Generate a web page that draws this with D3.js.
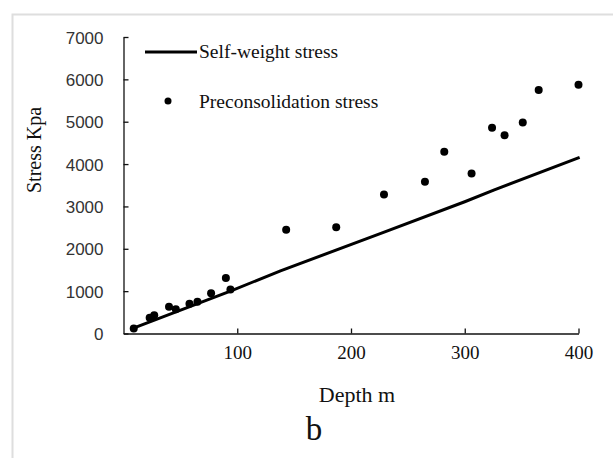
<!DOCTYPE html>
<html lang="en">
<head>
  <meta charset="UTF-8">
  <title>Stress vs depth</title>
  <script src="https://d3js.org/d3.v7.min.js"></script>
  <style>
    body { margin: 0; padding: 0; background: #fff; }
    svg { display: block; }
    .serif { font-family: "Liberation Serif", "Times New Roman", serif; fill: #111; }
    .yaxis text { font-family: "Liberation Sans", Arial, sans-serif; font-size: 17px; fill: #333; }
    .xaxis text { font-family: "Liberation Serif", "Times New Roman", serif; font-size: 19px; fill: #111; }
    .domain, .tick line { stroke: #111; stroke-width: 1.3; }
  </style>
</head>
<body>
<svg width="613" height="458"></svg>
<script>
  // data
  const pointDepth  = [9, 23, 27, 40, 46, 58, 65, 77, 90, 94, 143, 187, 229, 265, 282, 306, 324, 335, 351, 365, 400];
  const pointStress = [120, 370, 430, 630, 570, 700, 750, 950, 1310, 1040, 2450, 2510, 3280, 3580, 4290, 3780, 4860, 4680, 4980, 5750, 5870];
  const lineDepth   = [7, 94, 138, 228, 300, 326, 401];
  const lineStress  = [110, 1000, 1480, 2380, 3110, 3390, 4160];
  const xTicks = [100, 200, 300, 400];
  const yTicks = [0, 1000, 2000, 3000, 4000, 5000, 6000, 7000];

  const svg = d3.select("svg");

  // light frame around the figure
  svg.append("path")
    .attr("d", "M12.5,458 L12.5,14.5 L613,14.5")
    .attr("fill", "none").attr("stroke", "#dedede").attr("stroke-width", 2);

  const x = d3.scaleLinear().domain([0, 400]).range([123.5, 578.5]);
  const y = d3.scaleLinear().domain([0, 7000]).range([333.5, 37]);

  const yAxis = svg.append("g").attr("class", "yaxis")
    .attr("transform", "translate(123.5,0)")
    .call(d3.axisLeft(y).tickValues(yTicks).tickFormat(d3.format("d"))
      .tickSizeInner(-5).tickSizeOuter(0).tickPadding(20));
  yAxis.selectAll("text").attr("dy", "0.36em");

  const xAxis = svg.append("g").attr("class", "xaxis")
    .attr("transform", "translate(0,333.5)")
    .call(d3.axisBottom(x).tickValues(xTicks).tickFormat(d3.format("d"))
      .tickSizeInner(-5).tickSizeOuter(0));
  xAxis.selectAll("text").attr("y", 12).attr("dy", "0.71em");

  // self-weight line
  const line = d3.line().x(d => x(d[0])).y(d => y(d[1]));
  svg.append("path")
    .datum(lineDepth.map((d, i) => [d, lineStress[i]]))
    .attr("d", line)
    .attr("fill", "none").attr("stroke", "#000").attr("stroke-width", 3);

  // preconsolidation points
  svg.selectAll("circle.pt").data(pointDepth)
    .join("circle").attr("class", "pt")
    .attr("cx", d => x(d)).attr("cy", (d, i) => y(pointStress[i]))
    .attr("r", 4).attr("fill", "#000");

  // legend
  svg.append("line").attr("x1", 145).attr("x2", 197).attr("y1", 52).attr("y2", 52)
    .attr("stroke", "#000").attr("stroke-width", 3);
  svg.append("text").attr("class", "serif").attr("x", 199).attr("y", 58)
    .attr("font-size", 19.5).text("Self-weight stress");
  svg.append("circle").attr("cx", 168).attr("cy", 101).attr("r", 3.5).attr("fill", "#000");
  svg.append("text").attr("class", "serif").attr("x", 199).attr("y", 108)
    .attr("font-size", 19.5).text("Preconsolidation stress");

  // axis titles
  svg.append("text").attr("class", "serif")
    .attr("transform", "translate(41,150) rotate(-90)")
    .attr("text-anchor", "middle").attr("font-size", 20).text("Stress Kpa");
  svg.append("text").attr("class", "serif")
    .attr("x", 357).attr("y", 402).attr("text-anchor", "middle")
    .attr("font-size", 22).text("Depth m");
  svg.append("text").attr("class", "serif")
    .attr("x", 314).attr("y", 440).attr("text-anchor", "middle")
    .attr("font-size", 33).text("b");
</script>
</body>
</html>
